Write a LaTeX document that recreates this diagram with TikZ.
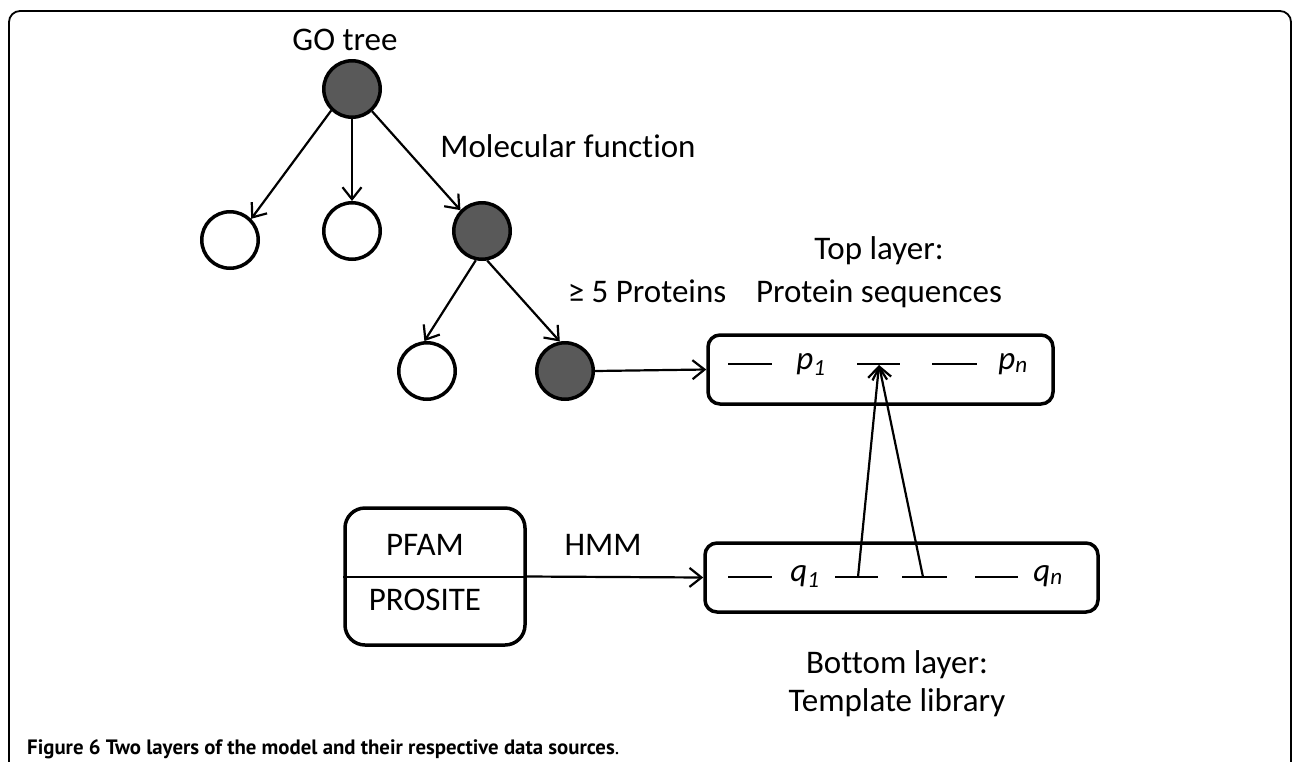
\documentclass[tikz,border=0pt]{standalone}
\usepackage{fontspec}
\setmainfont{Carlito}[Ligatures={NoCommon}]
\newfontfamily\capfont{PT Sans}
\usetikzlibrary{arrows.meta}
\definecolor{darkfill}{RGB}{89,89,89}
\begin{document}
\begin{tikzpicture}[x=1pt,y=-1pt,
  lbl/.style={font=\fontsize{33}{38}\selectfont, anchor=base, inner sep=0pt},
  wnode/.style={circle, draw, line width=3.5pt, minimum size=56.5pt, inner sep=0pt, fill=white},
  dnode/.style={wnode, fill=darkfill},
  arr/.style={line width=2.2pt, -{Straight Barb[length=12pt,width=19pt,line width=2.2pt]}},
  layerbox/.style={draw, line width=3.5pt, rounded corners=12pt, inner sep=0pt},
  seg/.style={line width=2.4pt}]
\useasboundingbox (0,0) rectangle (1292,761);
% frame
\draw[line width=1.8pt, rounded corners=11pt] (9,800) -- (9,11) -- (1291,11) -- (1291,800);

% tree
\node[dnode] (root) at (352,89) {};
\node[wnode] (c1) at (230,240) {};
\node[wnode] (c2) at (352,231) {};
\node[dnode] (c3) at (482,231) {};
\node[wnode] (c4) at (427,371) {};
\node[dnode] (c5) at (565,371) {};

\draw[arr] (root.226) -- (c1.45);
\draw[arr] (root.270) -- (c2.90);
\draw[arr] (root.312) -- (c3.136);
\draw[arr] (c3.258) -- (c4.95);
\draw[arr] (c3.280) -- (c5.100);

\node[lbl] (gotree) at (345,50) {GO tree};
\node[lbl] (molf) at (568,157) {Molecular function};
\node[lbl] (five) at (647,302) {≥ 5 Proteins};
\node[lbl] (toplay) at (879,259) {Top layer:};
\node[lbl] (protseq) at (879,302) {Protein sequences};

% top layer box
\node[layerbox, minimum width=345pt, minimum height=69pt] (top) at (880.5,369.5) {};
\draw[arr] (c5.east) -- (top.west);
\draw[seg] (728,364) -- (772,364);
\draw[seg] (857,364) -- (900,364);
\draw[seg] (932,364) -- (977,364);
\node[lbl] (p1) at (811,369) {\itshape p\textsubscript{1}};
\node[lbl] (pn) at (1013,369) {\itshape p\textsubscript{n}};

% bottom layer box
\node[layerbox, minimum width=393pt, minimum height=69pt] (bot) at (901.5,577.5) {};
\draw[seg] (728,577) -- (772,577);
\draw[seg] (835,577) -- (878,577);
\draw[seg] (902,577) -- (947,577);
\draw[seg] (975,577) -- (1018,577);
\node[lbl] (q1) at (805,581) {\itshape q\textsubscript{1}};
\node[lbl] (qn) at (1048,581) {\itshape q\textsubscript{n}};
\coordinate (t1) at (858,577);
\coordinate (t2) at (923,577);
\coordinate (tgt) at (879,365);
\draw[arr] (t1) -- (tgt);
\draw[arr] (t2) -- (tgt);

\node[lbl] (botlay) at (897,673) {Bottom layer:};
\node[lbl] (templ) at (897,711) {Template library};

% sources box
\node[layerbox, rounded corners=20pt, minimum width=180pt, minimum height=137pt] (src) at (435,576.5) {};
\draw[line width=2pt] (src.west) -- (src.east);
\draw[arr] (src.east) -- (bot.west);
\node[lbl] (pfam) at (425,555) {PFAM};
\node[lbl] (prosite) at (425,610) {PROSITE};
\node[lbl] (hmm) at (603,555) {HMM};

% caption
\node[anchor=base west, inner sep=0pt, font=\capfont\fontsize{20.8}{24}\selectfont] (cap) at (27,754) {\textbf{Figure 6 Two layers of the model and their respective data sources}.};
\end{tikzpicture}
\end{document}
